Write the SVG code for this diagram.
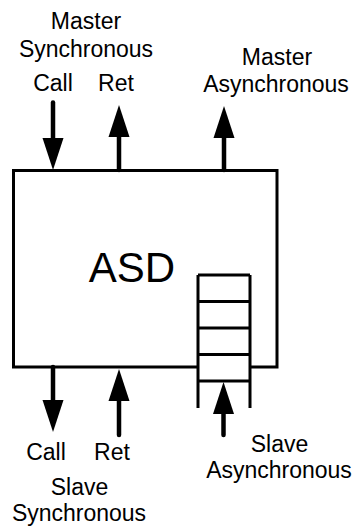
<svg xmlns="http://www.w3.org/2000/svg" width="354" height="527" viewBox="0 0 354 527">
  <style>
    .lbl { font-family: "Liberation Sans", Arial, sans-serif; font-size: 23px; fill: #000; text-anchor: middle; }
    .big { font-family: "Liberation Sans", Arial, sans-serif; font-size: 42px; fill: #000; text-anchor: middle; }
    .edge { fill: none; stroke: #000; stroke-width: 3; }
    .shaft { fill: none; stroke: #000; stroke-width: 4.5; stroke-linecap: round; marker-end: url(#head); }
  </style>
  <defs>
    <marker id="head" markerUnits="userSpaceOnUse" markerWidth="33" markerHeight="22" viewBox="0 0 33 22" refX="0" refY="11" orient="auto">
      <path d="M0,0.5 L32,11 L0,21.5 Z" fill="#000"/>
    </marker>
  </defs>
  <rect width="354" height="527" fill="#fff"/>

  <g id="asd">
    <path class="edge" d="M198,367 H13.5 V170.5 H277 V367 H250"/>
    <text class="big" x="132" y="282">ASD</text>
  </g>

  <g id="queue">
    <path class="edge" d="M198,275 V408 M250,275 V408 M198,275 H250 M198,301.5 H250 M198,328 H250 M198,354.5 H250 M198,381 H250"/>
  </g>

  <g id="master-sync">
    <text class="lbl" x="86" y="29">Master</text>
    <text class="lbl" x="86" y="56.5">Synchronous</text>
    <text class="lbl" x="53" y="91">Call</text>
    <text class="lbl" x="116" y="91">Ret</text>
  </g>

  <g id="master-async">
    <text class="lbl" x="277" y="65">Master</text>
    <text class="lbl" x="276" y="91.7">Asynchronous</text>
  </g>

  <g id="slave-sync">
    <text class="lbl" x="46" y="459.5">Call</text>
    <text class="lbl" x="112" y="459.5">Ret</text>
    <text class="lbl" x="79.5" y="494.5">Slave</text>
    <text class="lbl" x="79" y="520.7">Synchronous</text>
  </g>

  <g id="slave-async">
    <text class="lbl" x="279.5" y="451.7">Slave</text>
    <text class="lbl" x="279" y="478.3">Asynchronous</text>
  </g>

  <g id="connectors">
    <path class="shaft" d="M53,102.5 V138"/>
    <path class="shaft" d="M119,170 V137"/>
    <path class="shaft" d="M224,170 V138"/>
    <path class="shaft" d="M53,367 V400"/>
    <path class="shaft" d="M119,435 V401"/>
    <path class="shaft" d="M223.5,435 V414"/>
  </g>
</svg>
